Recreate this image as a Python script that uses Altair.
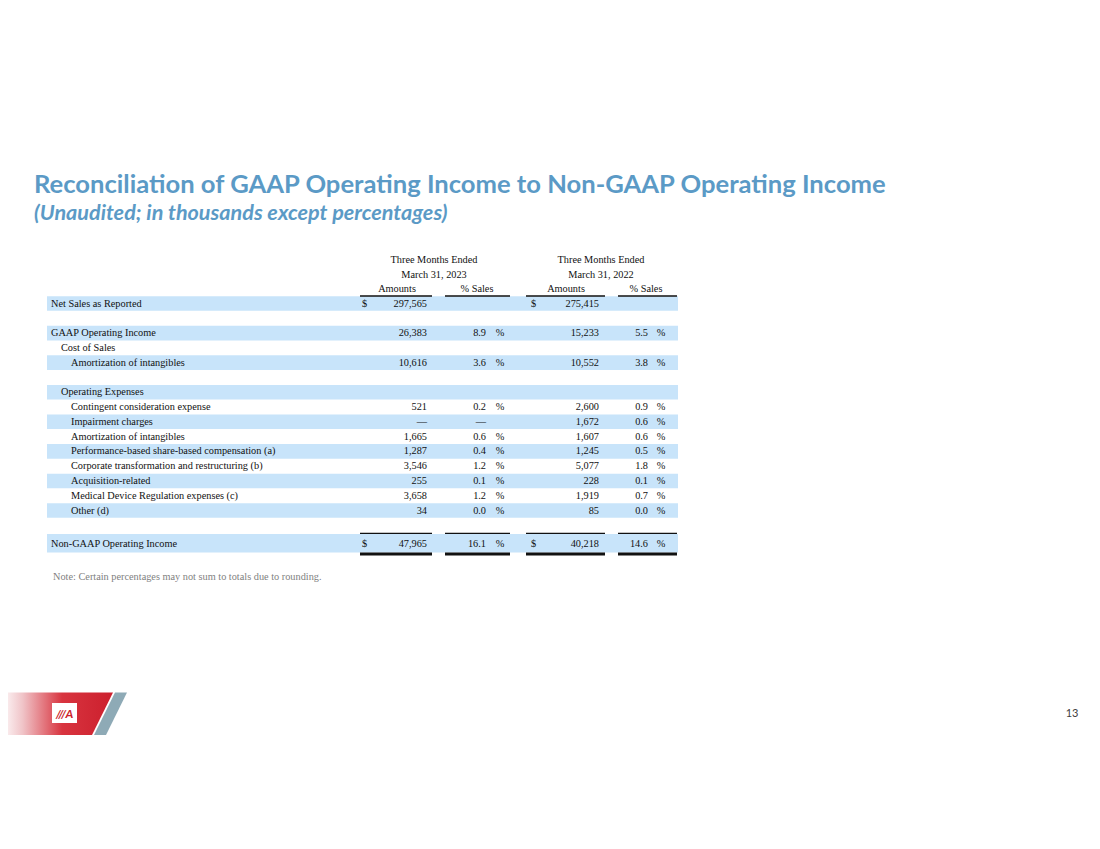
import altair as alt
import pandas as pd

# ---------------- data ----------------
row_labels = [
    "Net Sales as Reported", "", "GAAP Operating Income", "Cost of Sales",
    "Amortization of intangibles", "", "Operating Expenses",
    "Contingent consideration expense", "Impairment charges",
    "Amortization of intangibles", "Performance-based share-based compensation (a)",
    "Corporate transformation and restructuring (b)", "Acquisition-related",
    "Medical Device Regulation expenses (c)", "Other (d)", "",
    "Non-GAAP Operating Income",
]
row_indent = [0, 0, 0, 1, 2, 0, 1, 2, 2, 2, 2, 2, 2, 2, 2, 0, 0]
amt_2023 = ["297,565", "", "26,383", "", "10,616", "", "", "521", "\u2014", "1,665",
            "1,287", "3,546", "255", "3,658", "34", "", "47,965"]
pct_2023 = ["", "", "8.9", "", "3.6", "", "", "0.2", "\u2014", "0.6",
            "0.4", "1.2", "0.1", "1.2", "0.0", "", "16.1"]
amt_2022 = ["275,415", "", "15,233", "", "10,552", "", "", "2,600", "1,672", "1,607",
            "1,245", "5,077", "228", "1,919", "85", "", "40,218"]
pct_2022 = ["", "", "5.5", "", "3.8", "", "", "0.9", "0.6", "0.6",
            "0.5", "1.8", "0.1", "0.7", "0.0", "", "14.6"]
dollar_rows = [0, 16]
period_titles = ["Three Months Ended", "Three Months Ended"]
period_dates = ["March 31, 2023", "March 31, 2022"]
col_heads = ["Amounts", "% Sales", "Amounts", "% Sales"]

title = "Reconciliation of GAAP Operating Income to Non-GAAP Operating Income"
subtitle = "(Unaudited; in thousands except percentages)"
note = "Note: Certain percentages may not sum to totals due to rounding."
page_no = "13"

# ---------------- layout ----------------
W, H = 1084, 833
X = alt.Scale(domain=[8, 8 + W], nice=False, zero=False)
Y = alt.Scale(domain=[8, 8 + H], nice=False, zero=False, reverse=True)
SERIF = "Liberation Serif"
SANS = "Lato"
BLUE = "#5b9ac6"
BAND = "#c8e4fa"
INK = "#111111"
FS = 10.3

n = len(row_labels)
row_y = [303.5 + 14.79 * i for i in range(n - 1)] + [543.5]
indent_x = {0: 51, 1: 61, 2: 71}
seg = [(360, 432), (445, 510), (526, 605), (618, 677)]
amt_right = [427, 599]
pct_right = [486, 648]
pctsign_x = [500, 661]
dollar_x = [362, 531]


def xq(f="x"):
    return alt.X(f"{f}:Q", scale=X, axis=None)


def yq(f="y"):
    return alt.Y(f"{f}:Q", scale=Y, axis=None)


# bands
bands = []
for i in range(n):
    if i % 2 == 0:
        if i == n - 1:
            bands.append({"x": 47, "x2": 678, "y": 534, "y2": 552.5})
        else:
            bands.append({"x": 47, "x2": 678, "y": row_y[i] - 7.3, "y2": row_y[i] + 7.3})
band_layer = alt.Chart(pd.DataFrame(bands)).mark_rect(color=BAND).encode(
    x=xq(), x2="x2:Q", y=yq(), y2="y2:Q")

# rules
rules_thin = pd.DataFrame(
    [{"x": a, "x2": b, "y": 296} for a, b in seg]
    + [{"x": a, "x2": b, "y": 533.3} for a, b in seg])
rules_thick = pd.DataFrame([{"x": a, "x2": b, "y": 554} for a, b in seg])
rule1 = alt.Chart(rules_thin).mark_rule(color=INK, strokeWidth=1.3).encode(
    x=xq(), x2="x2:Q", y=yq())
rule2 = alt.Chart(rules_thick).mark_rule(color=INK, strokeWidth=3).encode(
    x=xq(), x2="x2:Q", y=yq())


def text_layer(rows, align, font=SERIF, size=FS, color=INK, weight="normal",
               style="normal", baseline="middle"):
    return alt.Chart(pd.DataFrame(rows)).mark_text(
        align=align, baseline=baseline, font=font, fontSize=size, color=color,
        fontWeight=weight, fontStyle=style).encode(x=xq(), y=yq(), text="t:N")


labels = [{"x": indent_x[row_indent[i]], "y": row_y[i], "t": row_labels[i]}
          for i in range(n) if row_labels[i]]
amounts = []
pcts = []
signs = []
dollars = []
for k, (amts, pc) in enumerate([(amt_2023, pct_2023), (amt_2022, pct_2022)]):
    for i in range(n):
        if amts[i]:
            amounts.append({"x": amt_right[k], "y": row_y[i], "t": amts[i]})
        if pc[i]:
            pcts.append({"x": pct_right[k], "y": row_y[i], "t": pc[i]})
            if pc[i] != "\u2014":
                signs.append({"x": pctsign_x[k], "y": row_y[i], "t": "%"})
    for i in dollar_rows:
        dollars.append({"x": dollar_x[k], "y": row_y[i], "t": "$"})

heads = []
centers = [434, 601]
for k in range(2):
    heads.append({"x": centers[k], "y": 259.5, "t": period_titles[k]})
    heads.append({"x": centers[k], "y": 274.5, "t": period_dates[k]})
head_cols = [397, 477, 566, 646]
for k, h in enumerate(col_heads):
    heads.append({"x": head_cols[k], "y": 289, "t": h})

# logo
red_shape = pd.DataFrame([{"y": 692.5, "x": 0, "x2": 113}, {"y": 735, "x": 0, "x2": 92}])
gray_shape = pd.DataFrame([{"y": 692.5, "x": 115, "x2": 127}, {"y": 735, "x": 94, "x2": 106}])
red_grad = alt.Gradient(
    gradient="linear", x1=0, x2=1, y1=0, y2=0,
    stops=[alt.GradientStop(color="#ffffff", offset=0),
           alt.GradientStop(color="#f0c4c8", offset=0.2),
           alt.GradientStop(color="#d8343f", offset=0.55),
           alt.GradientStop(color="#cc1f2d", offset=1)])
red_layer = alt.Chart(red_shape).mark_area(orient="horizontal", color=red_grad).encode(
    y=yq(), x=xq(), x2="x2:Q")
gray_layer = alt.Chart(gray_shape).mark_area(orient="horizontal", color="#8eaab6").encode(
    y=yq(), x=xq(), x2="x2:Q")
logo_box = alt.Chart(pd.DataFrame([{"x": 52, "x2": 77, "y": 703, "y2": 723}])).mark_rect(
    color="#ffffff").encode(x=xq(), x2="x2:Q", y=yq(), y2="y2:Q")
logo_mark = text_layer([{"x": 64.5, "y": 713.5, "t": "///A"}], "center", font=SANS,
                       size=12, color="#cc1f2d", weight="bold", style="italic")

layers = [
    band_layer, rule1, rule2,
    text_layer(labels, "left"),
    text_layer(amounts, "right"),
    text_layer(pcts, "right"),
    text_layer(signs, "center"),
    text_layer(dollars, "left"),
    text_layer(heads, "center"),
    text_layer([{"x": 34, "y": 192.5, "t": title}], "left", font=SANS, size=25.6,
               color=BLUE, weight="bold", baseline="alphabetic"),
    text_layer([{"x": 34, "y": 219.5, "t": subtitle}], "left", font=SANS, size=21.6,
               color=BLUE, weight="bold", style="italic", baseline="alphabetic"),
    text_layer([{"x": 53, "y": 577, "t": note}], "left", size=FS, color="#7f7f7f"),
    text_layer([{"x": 1072, "y": 714, "t": page_no}], "center", font=SANS, size=11,
               color="#404040"),
    red_layer, gray_layer, logo_box, logo_mark,
]

chart = alt.layer(*layers).properties(
    width=W, height=H, padding=0, background="#ffffff",
    autosize=alt.AutoSizeParams(type="none")
).configure_view(stroke=None)

chart.save("out.html", embed_options={"renderer": "svg", "actions": False})
